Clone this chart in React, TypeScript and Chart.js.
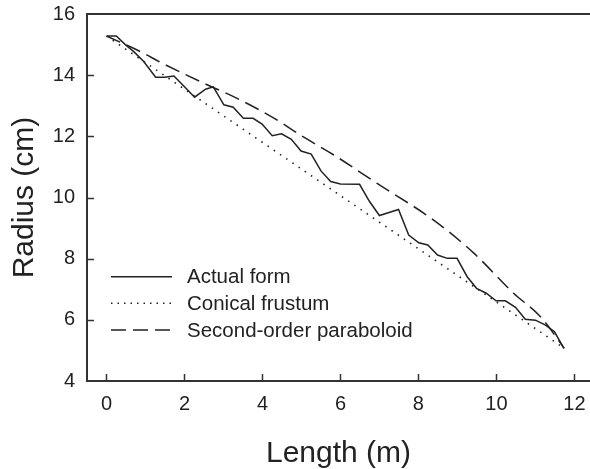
import React, { useEffect, useRef } from "react";
import { Chart, registerables } from "chart.js";

Chart.register(...registerables);

// Actual form (length m, radius cm)
const actualX = [0.02, 0.25, 0.49, 0.70, 0.96, 1.26, 1.49, 1.73, 2.0, 2.26, 2.54, 2.74, 3.01, 3.25, 3.51, 3.76, 3.99, 4.25, 4.49, 4.74, 4.99, 5.25, 5.50, 5.75, 6.0, 6.49, 6.75, 7.0, 7.49, 7.75, 8.01, 8.24, 8.49, 8.74, 8.99, 9.25, 9.49, 9.74, 9.99, 10.23, 10.49, 10.74, 11.0, 11.26, 11.49, 11.73];
const actualY = [15.28, 15.28, 14.99, 14.77, 14.44, 13.93, 13.93, 13.97, 13.62, 13.28, 13.54, 13.62, 13.03, 12.95, 12.59, 12.59, 12.40, 12.02, 12.08, 11.90, 11.52, 11.42, 10.87, 10.52, 10.44, 10.43, 9.86, 9.41, 9.61, 8.77, 8.52, 8.45, 8.12, 8.01, 8.01, 7.41, 7.03, 6.87, 6.62, 6.62, 6.41, 6.02, 5.99, 5.83, 5.61, 5.07];

// Conical frustum
const coneX = [0.0, 11.74];
const coneY = [15.28, 5.07];

// Second-order paraboloid
const paraX = [0.0, 0.87, 1.43, 2.49, 3.35, 4.38, 4.97, 5.83, 6.94, 8.39, 9.42, 10.44, 11.13, 11.74];
const paraY = [15.28, 14.77, 14.39, 13.74, 13.24, 12.53, 12.04, 11.39, 10.46, 9.26, 8.18, 6.87, 6.10, 5.07];

const xTicks = [0, 2, 4, 6, 8, 10, 12];
const yTicks = [4, 6, 8, 10, 12, 14, 16];

const legendLabels = ["Actual form", "Conical frustum", "Second-order paraboloid"];
const xTitle = "Length (m)";
const yTitle = "Radius (cm)";

const FONT = "Arial, 'Liberation Sans', Helvetica, sans-serif";
const INK = "#222";
const AXIS = "#333";

const zip = (xs: number[], ys: number[]) => xs.map((x, i) => ({ x, y: ys[i] }));

const decorPlugin = {
  id: "decor",
  afterDraw(chart: any) {
    const ctx = chart.ctx as CanvasRenderingContext2D;
    const { left, right, top, bottom } = chart.chartArea;
    const xs = chart.scales.x;
    const ys = chart.scales.y;
    ctx.save();
    // top border
    ctx.strokeStyle = AXIS;
    ctx.lineWidth = 2;
    ctx.beginPath();
    ctx.moveTo(left - 1, top);
    ctx.lineTo(chart.width, top);
    ctx.stroke();
    // inward ticks
    ctx.lineWidth = 1.5;
    ctx.beginPath();
    xTicks.forEach((v) => {
      const px = Math.round(xs.getPixelForValue(v)) + 0.5;
      ctx.moveTo(px, bottom);
      ctx.lineTo(px, bottom - 7);
    });
    yTicks.forEach((v) => {
      if (v === 4 || v === 16) return;
      const py = Math.round(ys.getPixelForValue(v)) + 0.5;
      ctx.moveTo(left, py);
      ctx.lineTo(left + 7, py);
    });
    ctx.stroke();

    // axis titles
    ctx.fillStyle = INK;
    ctx.font = `30px ${FONT}`;
    ctx.textAlign = "center";
    ctx.textBaseline = "middle";
    ctx.fillText(xTitle, (left + right) / 2, 454);
    ctx.save();
    ctx.translate(25, (top + bottom) / 2);
    ctx.rotate(-Math.PI / 2);
    ctx.fillText(yTitle, 0, 0);
    ctx.restore();

    // legend
    const rows = [276.7, 303.3, 330];
    const dashes = [[], [1.5, 5], [15, 7]];
    ctx.font = `20.5px ${FONT}`;
    ctx.textAlign = "left";
    rows.forEach((ry, i) => {
      ctx.strokeStyle = INK;
      ctx.lineWidth = i === 1 ? 1.6 : 1.5;
      ctx.setLineDash(dashes[i]);
      ctx.beginPath();
      ctx.moveTo(111, ry);
      ctx.lineTo(172, ry);
      ctx.stroke();
      ctx.setLineDash([]);
      ctx.fillText(legendLabels[i], 187, ry + 1);
    });
    ctx.restore();
  },
};

export default function App() {
  const ref = useRef<HTMLCanvasElement>(null);
  useEffect(() => {
    if (!ref.current) return;
    const chart = new Chart(ref.current, {
      type: "line",
      data: {
        datasets: [
          {
            label: legendLabels[0],
            data: zip(actualX, actualY),
            borderColor: INK,
            borderWidth: 1.5,
            pointRadius: 0,
            tension: 0,
          },
          {
            label: legendLabels[1],
            data: zip(coneX, coneY),
            borderColor: INK,
            borderWidth: 1.6,
            borderDash: [1.5, 6],
            pointRadius: 0,
            tension: 0,
          },
          {
            label: legendLabels[2],
            data: zip(paraX, paraY),
            borderColor: INK,
            borderWidth: 1.5,
            borderDash: [15, 7],
            pointRadius: 0,
            cubicInterpolationMode: "monotone",
          },
        ],
      },
      options: {
        animation: false,
        responsive: false,
        maintainAspectRatio: false,
        layout: { padding: { top: 14, left: 0, right: 0, bottom: 0 } },
        plugins: { legend: { display: false }, tooltip: { enabled: false } },
        scales: {
          x: {
            type: "linear",
            min: -0.5,
            max: 12.4,
            grid: { display: false, drawTicks: false },
            border: { display: true, color: AXIS, width: 2 },
            ticks: { color: INK, font: { family: FONT, size: 20 }, padding: 11 },
            afterBuildTicks: (s: any) => {
              s.ticks = xTicks.map((v) => ({ value: v }));
            },
            afterFit: (s: any) => {
              s.height = 88;
              s.paddingLeft = 0;
              s.paddingRight = 0;
            },
          },
          y: {
            type: "linear",
            min: 4,
            max: 16,
            grid: { display: false, drawTicks: false },
            border: { display: true, color: AXIS, width: 2 },
            ticks: { color: INK, font: { family: FONT, size: 20 }, padding: 12 },
            afterBuildTicks: (s: any) => {
              s.ticks = yTicks.map((v) => ({ value: v }));
            },
            afterFit: (s: any) => {
              s.width = 87;
              s.paddingTop = 0;
              s.paddingBottom = 0;
            },
          },
        },
      },
      plugins: [decorPlugin],
    });
    return () => chart.destroy();
  }, []);
  return (
    <div style={{ position: "fixed", left: 0, top: 0, width: 590, height: 469, background: "#fff" }}>
      <canvas ref={ref} width={590} height={469} style={{ width: 590, height: 469, display: "block" }} />
    </div>
  );
}
